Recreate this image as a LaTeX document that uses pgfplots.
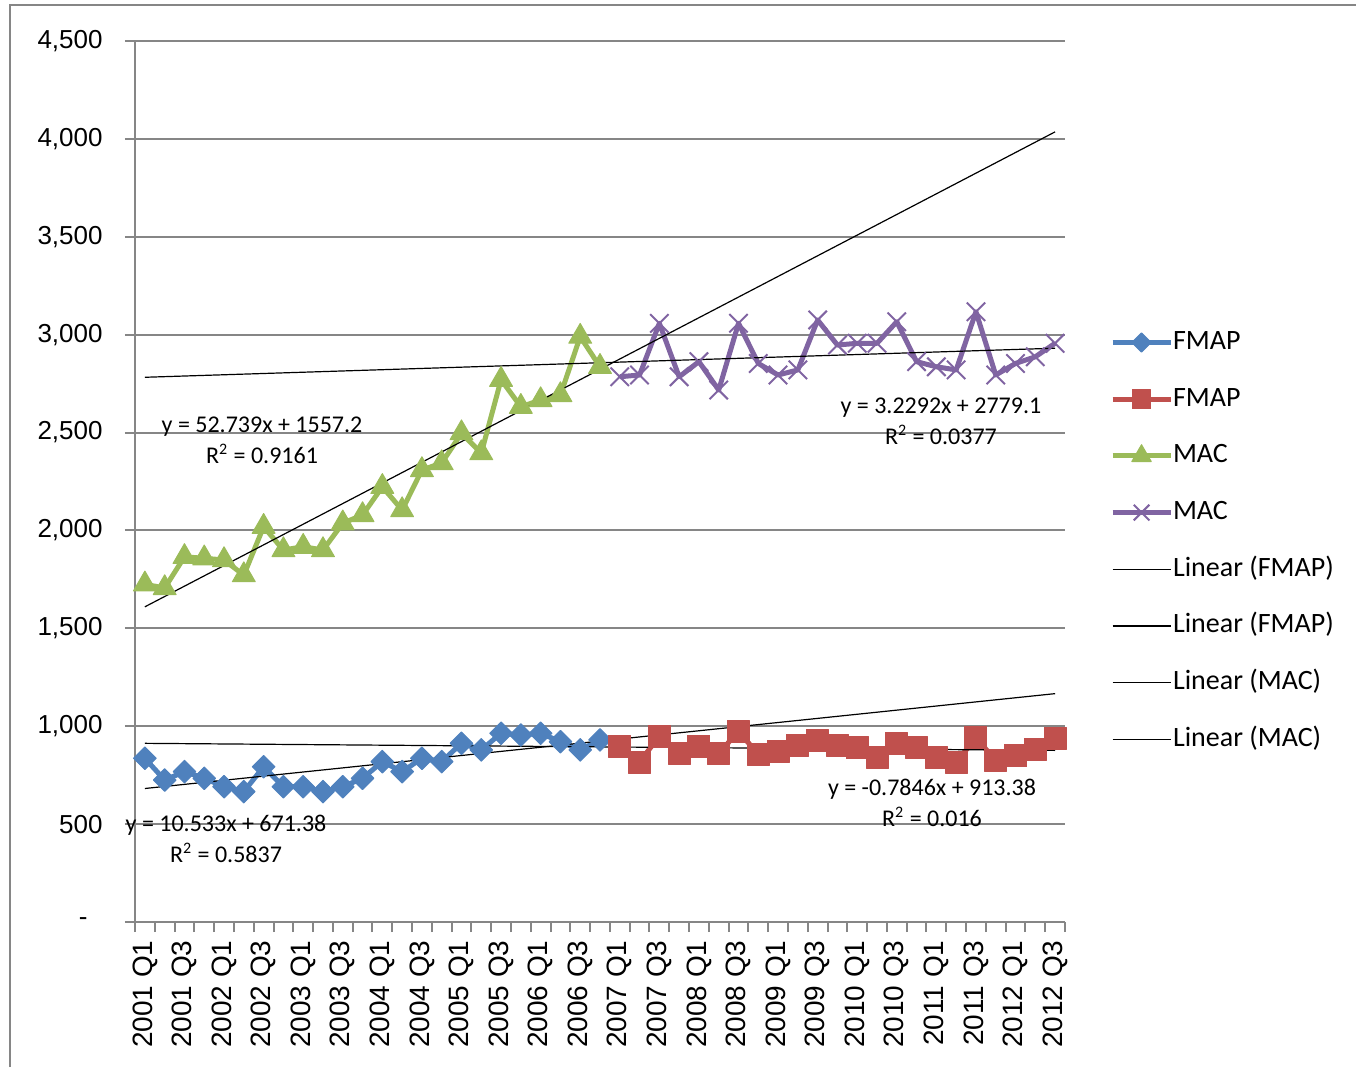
\documentclass[border=0pt]{standalone}
\usepackage{fontspec}
\setmainfont{Carlito}
\newfontfamily\arialf{Liberation Sans}
\usepackage{pgfplots}
\pgfplotsset{compat=1.18}

\definecolor{fmapblue}{HTML}{4F81BD}
\definecolor{fmapred}{HTML}{C0504D}
\definecolor{macgreen}{HTML}{9BBB59}
\definecolor{macpurple}{HTML}{8064A2}
\definecolor{gridgray}{HTML}{868686}

% quarters 2001 Q1 .. 2012 Q3 plotted at 0..46
\pgfplotstableread{
x y
0 836
1 725
2 768
3 734
4 691
5 666
6 793
7 691
8 691
9 666
10 691
11 734
12 819
13 768
14 836
15 819
16 913
17 879
18 964
19 955
20 964
21 921
22 879
23 930
}\fmapA
\pgfplotstableread{
x y
24 896
25 817
26 950
27 863
28 897
29 863
30 972
31 858
32 872
33 902
34 925
35 904
36 889
37 841
38 911
39 889
40 841
41 817
42 940
43 826
44 848
45 882
46 936
}\fmapB
\pgfplotstableread{
x y
0 1725
1 1706
2 1865
3 1858
4 1849
5 1772
6 2019
7 1900
8 1917
9 1900
10 2037
11 2079
12 2223
13 2104
14 2309
15 2344
16 2497
17 2395
18 2770
19 2632
20 2666
21 2692
22 2990
23 2836
}\macA
\pgfplotstableread{
x y
24 2785
25 2794
26 3058
27 2785
28 2862
29 2717
30 3058
31 2853
32 2794
33 2820
34 3075
35 2947
36 2956
37 2956
38 3066
39 2862
40 2836
41 2820
42 3117
43 2794
44 2853
45 2887
46 2956
}\macB

\begin{document}
\begin{tikzpicture}
\useasboundingbox (-67.5pt,-72.5pt) rectangle (610.5pt,461pt);
\draw[gridgray, line width=1pt] (-62.5pt,-72.5pt) -- (-62.5pt,458.5pt) -- (610.5pt,458.5pt);
\begin{axis}[
    scale only axis,
    width=465pt, height=440.5pt,
    xmin=-0.5, xmax=46.5,
    ymin=0, ymax=4500,
    axis x line*=bottom, axis y line*=left,
    axis line style={gridgray, line width=1pt},
    tick align=outside,
    major tick length=5pt, minor tick length=5pt,
    tick style={gridgray, line width=1pt},
    major x tick style={draw=none},
    xtick={0,2,...,46},
    xticklabels={2001 Q1,2001 Q3,2002 Q1,2002 Q3,2003 Q1,2003 Q3,2004 Q1,2004 Q3,
                 2005 Q1,2005 Q3,2006 Q1,2006 Q3,2007 Q1,2007 Q3,2008 Q1,2008 Q3,
                 2009 Q1,2009 Q3,2010 Q1,2010 Q3,2011 Q1,2011 Q3,2012 Q1,2012 Q3},
    minor xtick={-0.5,0.5,...,46.5},
    xticklabel style={rotate=90, anchor=east, inner sep=0pt, xshift=-4pt,
        font=\arialf\fontsize{14}{15}\selectfont},
    ytick={0,500,...,4500},
    yticklabels={{-\hspace*{7.5pt}},500,{1,000},{1,500},{2,000},{2,500},{3,000},{3,500},{4,000},{4,500}},
    yticklabel style={anchor=east, inner sep=0pt, xshift=-11pt,
        font=\arialf\fontsize{13}{15}\selectfont},
    ymajorgrids=true,
    grid style={gridgray, line width=1pt},
    clip=false,
    legend cell align=left,
    legend style={at={(1.048,0.673)}, anchor=north west, draw=none, fill=none,
        inner sep=0pt, row sep=15.35pt,
        nodes={inner sep=0pt, text height=10pt, text depth=3pt},
        font=\fontsize{14}{16}\selectfont},
    legend image code/.code={
        \draw[mark repeat=2, mark phase=2, every mark/.append style={scale=0.85}]
            plot coordinates {(0pt,0pt) (14.5pt,0pt) (29pt,0pt)};},
]
\addplot[fmapblue, line width=2.5pt, line join=round, mark=square*,
    mark size=4pt, mark options={rotate=45, fill=fmapblue, solid, line width=0.5pt}]
    table {\fmapA};
\addlegendentry{FMAP}
\addplot[fmapred, line width=2.5pt, line join=round, mark=square*,
    mark size=5.5pt, mark options={fill=fmapred, solid, line width=0.5pt}]
    table {\fmapB};
\addlegendentry{FMAP}
\addplot[macgreen, line width=2.5pt, line join=round, mark=triangle*,
    mark size=6.6pt, mark options={fill=macgreen, solid, line width=0.5pt}]
    table {\macA};
\addlegendentry{MAC}
\addplot[macpurple, line width=2.5pt, line join=round, mark=x,
    mark size=6.5pt, mark options={line width=1pt}]
    table {\macB};
\addlegendentry{MAC}
% linear trend lines, end points at quarter 1 and 47
\addplot[black, line width=0.6pt] coordinates {(0,681.91) (46,1166.43)};
\addlegendentry{Linear (FMAP)}
\addplot[black, line width=0.6pt] coordinates {(0,912.60) (46,876.50)};
\addlegendentry{Linear (FMAP)}
\addplot[black, line width=0.6pt] coordinates {(0,1609.94) (46,4035.93)};
\addlegendentry{Linear (MAC)}
\addplot[black, line width=0.6pt] coordinates {(0,2782.33) (46,2930.87)};
\addlegendentry{Linear (MAC)}

\begin{scope}[every node/.style={align=center, font=\fontsize{12}{15.5}\selectfont, inner sep=0pt}]
\node at (axis cs:5.92,2462) {y = 52.739x + 1557.2\\R\textsuperscript{2} = 0.9161};
\node at (axis cs:40.23,2559) {y = 3.2292x + 2779.1\\R\textsuperscript{2} = 0.0377};
\node at (axis cs:4.10,426) {y = 10.533x + 671.38\\R\textsuperscript{2} = 0.5837};
\node at (axis cs:39.78,610) {y = -0.7846x + 913.38\\R\textsuperscript{2} = 0.016};
\end{scope}
\end{axis}
\end{tikzpicture}
\end{document}
